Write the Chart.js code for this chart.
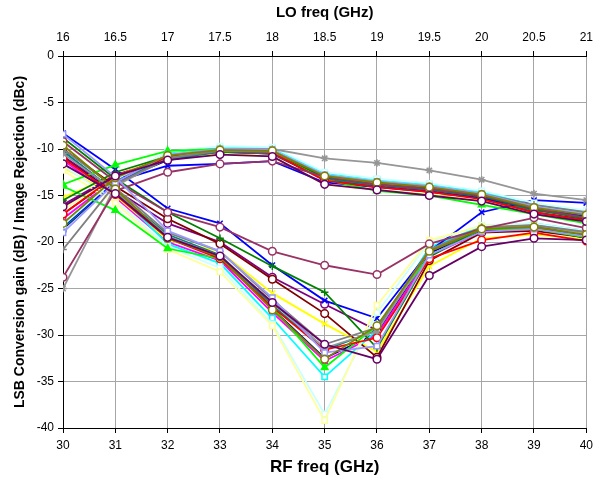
<!DOCTYPE html>
<html>
<head>
<meta charset="utf-8">
<script src="https://cdn.jsdelivr.net/npm/chart.js@4"></script>
<style>
  html, body { margin: 0; padding: 0; background: #fff; }
</style>
</head>
<body>
<canvas id="mixer" width="599" height="485"></canvas>
<script>
// RF frequency points (GHz)
const rf = [30, 31, 32, 33, 34, 35, 36, 37, 38, 39, 40];
const loMin = 16, loMax = 21, loStep = 0.5;

// LSB conversion gain (dB), one array per trace
const gainNavy      = [-18.6, -13.5, -11.2, -10.3, -10.5, -13.3, -14.0, -14.5, -15.3, -16.5, -17.3];
const gainMagenta   = [-17.5, -13.2, -10.8, -10.1, -10.3, -13.0, -13.7, -14.2, -15.0, -16.3, -17.0];
const gainYellow    = [-15.2, -12.8, -10.9, -10.5, -10.8, -13.8, -14.4, -14.9, -15.6, -17.0, -17.8];
const gainCyan      = [-18.0, -13.2, -10.4,  -9.9,  -9.9, -12.6, -13.3, -13.8, -14.6, -16.0, -16.8];
const gainPurple    = [-16.0, -12.8, -11.0, -10.3, -10.5, -13.3, -14.0, -14.5, -15.3, -16.8, -17.6];
const gainMaroon    = [-17.0, -13.0, -11.0, -10.2, -10.4, -13.1, -13.8, -14.2, -15.0, -16.3, -17.0];
const gainTeal      = [-18.5, -13.4, -11.1, -10.3, -10.5, -13.2, -13.9, -14.4, -15.2, -16.6, -17.3];
const gainBlue      = [-18.3, -13.5, -11.8, -11.6, -11.3, -13.6, -14.1, -14.6, -15.3, -16.3, -17.2];
const gainLtCyan    = [-18.2, -13.3, -10.3,  -9.7,  -9.8, -12.5, -13.2, -13.7, -14.5, -15.8, -16.6];
const gainLtYellow  = [-16.5, -13.0, -10.6, -10.0, -10.1, -12.9, -13.6, -14.0, -14.8, -16.2, -17.0];
const gainGreen     = [-13.8, -11.7, -10.2, -10.0, -10.3, -13.3, -14.5, -15.0, -16.0, -17.0, -18.0];
const gainDkGreen   = [-15.5, -12.5, -10.8, -10.2, -10.3, -13.0, -13.8, -14.3, -15.1, -16.5, -17.5];
const gainRed       = [-17.0, -12.9, -10.9, -10.2, -10.4, -13.4, -14.1, -14.6, -15.4, -16.8, -17.7];
const gainGray      = [-25.0, -14.0, -11.0, -10.0, -10.0, -11.0, -11.5, -12.3, -13.3, -14.8, -15.5];
const gainDkGray    = [-20.8, -13.8, -11.0, -10.2, -10.3, -12.8, -13.5, -14.0, -14.8, -16.0, -16.8];
const gainPlum      = [-23.8, -14.5, -12.5, -11.6, -11.3, -13.0, -13.8, -14.3, -15.0, -16.4, -17.4];
const gainLavender  = [-19.0, -13.6, -10.6, -10.0, -10.1, -12.8, -13.5, -14.0, -14.8, -16.2, -17.0];
const gainOlive     = [-18.0, -13.1, -10.7, -10.1, -10.2, -12.9, -13.6, -14.1, -14.9, -16.3, -17.1];
const gainDkPurple  = [-16.2, -12.9, -11.2, -10.6, -10.8, -13.8, -14.4, -15.0, -15.6, -17.0, -17.8];

// image rejection (dBc), same traces
const irNavy      = [-10.8, -14.8, -19.5, -21.6, -27.2, -32.5, -29.8, -21.2, -18.7, -18.4, -19.6];
const irMagenta   = [-11.2, -15.2, -20.0, -22.0, -27.6, -32.8, -30.0, -21.5, -18.9, -18.6, -19.3];
const irYellow    = [-12.0, -15.0, -19.8, -21.0, -25.5, -28.8, -31.8, -22.6, -19.6, -19.2, -19.7];
const irCyan      = [-10.3, -14.6, -20.2, -22.3, -28.2, -34.5, -29.5, -20.6, -18.3, -18.0, -18.8];
const irPurple    = [-10.8, -14.4, -18.0, -20.0, -23.8, -26.7, -29.5, -21.0, -18.8, -18.5, -19.5];
const irMaroon    = [-10.0, -14.0, -17.5, -20.2, -24.0, -27.7, -32.4, -22.0, -19.0, -18.8, -19.5];
const irTeal      = [-10.2, -14.6, -19.2, -21.4, -26.8, -31.6, -29.5, -21.0, -18.6, -18.3, -19.0];
const irBlue      = [ -8.3, -12.2, -16.4, -18.0, -22.5, -26.3, -28.2, -21.0, -16.8, -15.5, -15.8];
const irLtCyan    = [-11.8, -15.5, -20.5, -22.8, -28.8, -38.5, -27.6, -20.0, -18.2, -18.0, -18.8];
const irLtYellow  = [-12.3, -15.8, -20.8, -23.2, -29.0, -39.2, -26.8, -19.8, -18.3, -18.2, -19.0];
const irGreen     = [-14.0, -16.6, -20.7, -21.8, -27.0, -33.5, -29.0, -21.5, -18.6, -18.6, -19.5];
const irDkGreen   = [ -8.8, -13.2, -16.8, -19.6, -22.6, -25.4, -31.4, -21.6, -18.5, -18.3, -19.4];
const irRed       = [-11.0, -14.9, -19.6, -21.8, -27.0, -31.6, -30.3, -21.8, -19.8, -19.0, -19.9];
const irGray      = [-10.5, -14.5, -19.4, -21.5, -26.5, -31.4, -29.6, -21.0, -18.5, -18.2, -19.0];
const irDkGray    = [-10.0, -14.2, -19.0, -21.0, -26.2, -31.0, -29.2, -20.8, -18.4, -18.2, -18.9];
const irPlum      = [ -9.2, -13.5, -16.8, -18.4, -21.0, -22.5, -23.5, -20.2, -18.6, -17.4, -18.5];
const irLavender  = [ -8.4, -13.0, -18.8, -21.0, -26.0, -31.9, -31.2, -21.4, -18.9, -18.6, -19.4];
const irOlive     = [ -9.6, -14.3, -19.6, -21.6, -27.3, -32.6, -29.0, -21.0, -18.6, -18.4, -19.2];
const irDkPurple  = [-11.6, -14.8, -19.5, -21.5, -26.5, -31.0, -32.6, -23.6, -20.5, -19.6, -19.8];

const gainSets = [gainNavy, gainMagenta, gainYellow, gainCyan, gainPurple, gainMaroon, gainTeal, gainBlue,
  gainLtCyan, gainLtYellow, gainGreen, gainDkGreen, gainRed, gainGray, gainDkGray, gainPlum, gainLavender,
  gainOlive, gainDkPurple];
const irSets = [irNavy, irMagenta, irYellow, irCyan, irPurple, irMaroon, irTeal, irBlue,
  irLtCyan, irLtYellow, irGreen, irDkGreen, irRed, irGray, irDkGray, irPlum, irLavender,
  irOlive, irDkPurple];

// excel-ish line colours / markers, same order as above
const styles = [
  { c: '#000080', m: 'rect' },
  { c: '#FF00FF', m: 'rect' },
  { c: '#FFFF00', m: 'crossRot' },
  { c: '#00FFFF', m: 'rect' },
  { c: '#800080', m: 'circle' },
  { c: '#800000', m: 'circle' },
  { c: '#008080', m: 'crossRot' },
  { c: '#0000FF', m: 'crossRot' },
  { c: '#CCFFFF', m: 'rect' },
  { c: '#FFFF99', m: 'rect' },
  { c: '#00FF00', m: 'triangle' },
  { c: '#008000', m: 'cross' },
  { c: '#FF0000', m: 'circle' },
  { c: '#969696', m: 'star' },
  { c: '#808080', m: 'cross' },
  { c: '#993366', m: 'circle' },
  { c: '#9999FF', m: 'rect' },
  { c: '#808000', m: 'circle' },
  { c: '#660066', m: 'circle' }
];

const toPts = arr => rf.map((x, i) => ({ x: x, y: arr[i] }));

function makeSet(label, arr, st) {
  const hollow = st.m === 'circle' || st.m === 'rect';
  return {
    label: label,
    data: toPts(arr),
    borderColor: st.c,
    backgroundColor: st.c,
    borderWidth: 1.8,
    pointStyle: st.m,
    pointRadius: 3.8,
    pointBorderWidth: 1.5,
    pointBorderColor: st.c,
    pointBackgroundColor: hollow ? '#ffffff' : st.c,
    tension: 0,
    fill: false,
    xAxisID: 'x',
    yAxisID: 'y'
  };
}

// chart.js paints index 0 last, excel paints the last series on top -> reverse
const datasets = [];
styles.forEach((st, i) => {
  datasets.push(makeSet('Gain ' + (i + 1), gainSets[i], st));
  datasets.push(makeSet('IR ' + (i + 1), irSets[i], st));
});
datasets.reverse();

Chart.defaults.font.family = '"Liberation Sans", Arial, sans-serif';
Chart.defaults.color = '#000';

const cGrid = '#a6a6a6';
const plainNum = v => String(v);

new Chart(document.getElementById('mixer'), {
  type: 'line',
  data: { datasets: datasets },
  options: {
    responsive: false,
    animation: false,
    layout: { padding: { left: 0, right: 9, top: 0, bottom: 0 } },
    plugins: {
      legend: { display: false },
      tooltip: { enabled: false }
    },
    scales: {
      x: {
        type: 'linear',
        position: 'bottom',
        min: rf[0],
        max: rf[rf.length - 1],
        ticks: { stepSize: 1, font: { size: 12 }, padding: 5, maxRotation: 0, callback: plainNum },
        grid: { color: cGrid, tickColor: '#000', tickLength: 5 },
        border: { color: '#000', width: 1 },
        title: { display: true, text: 'RF freq (GHz)', font: { size: 17, weight: 'bold' }, padding: { top: 0, bottom: 7 } },
        afterFit: s => { s.height = 57; }
      },
      x2: {
        type: 'linear',
        position: 'top',
        min: loMin,
        max: loMax,
        ticks: { stepSize: loStep, font: { size: 12 }, padding: 6, maxRotation: 0, callback: plainNum },
        grid: { drawOnChartArea: false, tickColor: '#000', tickLength: 5 },
        border: { color: '#000', width: 1 },
        title: { display: true, text: 'LO freq (GHz)', font: { size: 15, weight: 'bold' }, padding: { top: 4, bottom: 0 } },
        afterFit: s => { s.height = 56; }
      },
      y: {
        type: 'linear',
        min: -40,
        max: 0,
        ticks: { stepSize: 5, font: { size: 12 }, padding: 4, callback: plainNum },
        grid: { color: cGrid, tickColor: '#000', tickLength: 5 },
        border: { color: '#000', width: 1 },
        title: { display: true, text: 'LSB Conversion gain (dB) / Image Rejection (dBc)', font: { size: 14, weight: 'bold' }, padding: { top: 12, bottom: 0 } },
        afterFit: s => { s.width = 63; }
      }
    }
  }
});
</script>
</body>
</html>
